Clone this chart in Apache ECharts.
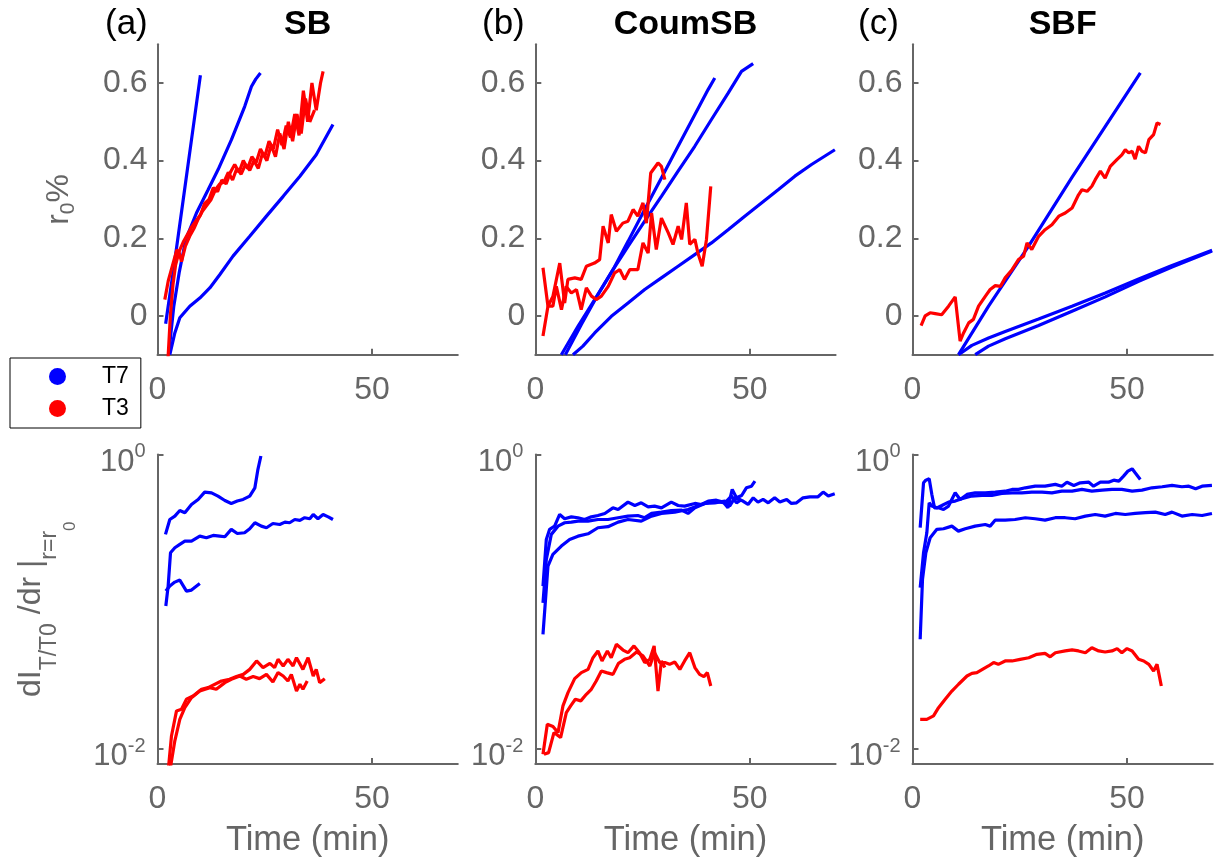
<!DOCTYPE html>
<html><head><meta charset="utf-8">
<script src="https://cdn.jsdelivr.net/npm/echarts@6.0.0/dist/echarts.min.js"></script>
<style>html,body{margin:0;padding:0;background:#fff}#chart{width:1217px;height:863px}</style>
</head><body><div id="chart"></div>
<script>
// ---------- tick values ----------
const timeTicks = [0, 50];
const r0Ticks = [0, 0.2, 0.4, 0.6];
const slopeTicks = [0.01, 1];

// ---------- panel (a) SB : r0 % vs time (min) ----------
const SB_r0_T7_1 = [[1.9,-0.02],[4.0,0.14],[6.0,0.30],[8.0,0.46],[10.0,0.62]];
const SB_r0_T7_2 = [[2.6,-0.1],[3.8,0.025],[5.05,0.111],[6.6,0.197],[9.08,0.265],[11.8,0.325],[14.13,0.377],[17.24,0.454],[20.34,0.54],[21.9,0.591],[22.9,0.61],[24.0,0.626]];
const SB_r0_T7_3 = [[2.87,-0.1],[4.04,-0.044],[5.2,-0.005],[7.53,0.025],[9.86,0.046],[12.19,0.072],[14.5,0.106],[17.6,0.154],[21.5,0.205],[25.4,0.257],[29.3,0.308],[33.2,0.36],[37.0,0.415],[40.9,0.493]];
const SB_r0_T3_1 = [[1.7,0.042],[2.5,0.09],[3.5,0.13],[4.5,0.17],[5.0,0.165],[5.6,0.14],[6.5,0.18],[7.5,0.205],[8.5,0.225],[9.5,0.25],[10.5,0.27],[11.5,0.285],[12.5,0.30],[13.5,0.325],[14.5,0.34],[15.5,0.345],[16.5,0.37],[17.5,0.35],[18.5,0.38],[19.5,0.365],[20.5,0.39],[21.5,0.375],[22.5,0.40],[23.5,0.38],[24.5,0.42],[25.5,0.40],[26.5,0.44],[27.5,0.41],[28.5,0.47],[29.5,0.43],[30.5,0.50],[31.5,0.45],[32.5,0.52],[33.5,0.47],[34.5,0.56],[35.5,0.50],[36.6,0.53]];
const SB_r0_T3_2 = [[2.4,-0.12],[3.0,0.0],[3.6,0.08],[4.2,0.13],[5.0,0.165],[6.0,0.19],[7.0,0.21],[8.0,0.23],[9.0,0.245],[10.0,0.26],[11.0,0.29],[12.0,0.30],[13.0,0.33],[14.0,0.32],[15.0,0.35],[16.0,0.34],[17.0,0.37],[18.0,0.39],[19.0,0.37],[20.0,0.40],[21.0,0.38],[22.0,0.41],[23.0,0.395],[24.0,0.43],[25.0,0.41],[26.0,0.45],[27.0,0.43],[28.0,0.48],[29.0,0.44],[30.0,0.49],[31.0,0.46],[32.0,0.52],[33.0,0.465],[34.0,0.58],[35.0,0.50],[36.0,0.60],[37.0,0.53],[38.0,0.60],[38.6,0.63]];

// ---------- panel (b) CoumSB ----------
const CoumSB_r0_T7_1 = [[6.07,-0.1],[9.95,-0.027],[13.84,0.042],[18.12,0.119],[21.62,0.192],[25.5,0.274],[29.39,0.355],[33.28,0.437],[37.17,0.518],[40.28,0.583],[41.84,0.613]];
const CoumSB_r0_T7_2 = [[7.0,-0.1],[10.73,-0.022],[14.62,0.055],[18.12,0.119],[21.62,0.179],[25.5,0.244],[29.39,0.308],[33.28,0.373],[37.17,0.437],[41.06,0.506],[44.95,0.574],[48.06,0.63],[50.78,0.65]];
const CoumSB_r0_T7_3 = [[8.79,-0.1],[11.1,-0.078],[13.84,-0.044],[17.73,-0.001],[21.62,0.033],[25.5,0.068],[29.39,0.098],[33.28,0.128],[37.17,0.158],[41.06,0.188],[44.95,0.222],[48.83,0.257],[52.72,0.291],[56.61,0.325],[60.5,0.36],[64.39,0.39],[69.83,0.428]];
const CoumSB_r0_T3_1 = [[1.79,0.124],[2.95,0.025],[4.1,0.05],[5.7,0.136],[6.84,0.033],[7.6,0.094],[9.2,0.098],[10.7,0.094],[11.9,0.128],[13.8,0.136],[15.0,0.145],[15.8,0.231],[17.0,0.188],[17.7,0.261],[18.9,0.218],[20.4,0.239],[21.6,0.244],[22.8,0.274],[23.9,0.257],[25.1,0.291],[25.9,0.239],[26.9,0.368],[28.6,0.394],[29.4,0.385],[30.2,0.351]];
const CoumSB_r0_T3_2 = [[1.79,-0.052],[2.95,0.025],[4.1,0.025],[4.9,0.076],[6.1,0.016],[7.2,0.076],[8.4,0.059],[9.6,0.068],[10.7,0.016],[11.9,0.072],[13.1,0.051],[14.2,0.042],[15.4,0.051],[17.0,0.076],[18.5,0.111],[19.7,0.119],[20.8,0.094],[22.0,0.119],[23.9,0.119],[25.1,0.188],[26.3,0.162],[27.1,0.265],[28.2,0.171],[29.4,0.252],[31.0,0.214],[32.1,0.184],[33.3,0.231],[34.1,0.197],[35.2,0.291],[36.0,0.184],[37.2,0.197],[37.9,0.162],[38.9,0.128],[39.9,0.197],[40.9,0.334]];

// ---------- panel (c) SBF ----------
const SBF_r0_T7_1 = [[10.73,-0.1],[17.73,0.025],[27.06,0.18],[37.17,0.357],[44.95,0.488],[53.11,0.626]];
const SBF_r0_T7_2 = [[10.73,-0.1],[13.84,-0.076],[17.73,-0.057],[21.62,-0.04],[29.39,-0.008],[37.17,0.025],[44.95,0.059],[52.72,0.095],[60.5,0.13],[69.83,0.169]];
const SBF_r0_T7_3 = [[14.62,-0.1],[17.73,-0.078],[21.62,-0.059],[29.39,-0.025],[37.17,0.012],[44.95,0.049],[52.72,0.089],[60.5,0.126],[69.83,0.167]];
const SBF_r0_T3_1 = [[2.0,-0.025],[2.95,0.0],[4.1,0.008],[5.3,0.006],[6.8,0.003],[8.4,0.025],[9.95,0.049],[11.1,-0.065],[11.9,-0.044],[13.1,-0.018],[14.2,-0.009],[15.4,0.025],[17.0,0.051],[18.1,0.068],[19.3,0.078],[20.5,0.076],[21.6,0.098],[23.2,0.119],[24.7,0.145],[25.9,0.154],[26.7,0.188],[27.8,0.171],[29.4,0.205],[30.9,0.222],[32.5,0.235],[34.1,0.257],[35.6,0.265],[37.2,0.278],[38.7,0.312],[39.5,0.325],[40.7,0.321],[41.8,0.334],[42.6,0.351],[43.8,0.373],[44.9,0.355],[46.1,0.385],[47.7,0.403],[48.8,0.415],[49.6,0.428],[50.4,0.42],[51.2,0.424],[51.9,0.404],[52.7,0.437],[53.5,0.424],[54.3,0.42],[55.1,0.454],[56.2,0.467],[57.0,0.497],[57.8,0.493]];

// ---------- bottom row: dI_T/T0/dr at r=r0, stored as log10 exponents ----------
const SB_slopeExp_T7_1 = [[1.86,-0.542],[2.87,-0.441],[4.04,-0.418],[5.2,-0.38],[6.37,-0.395],[7.92,-0.339],[9.47,-0.305],[11.0,-0.255],[12.6,-0.26],[14.1,-0.282],[15.7,-0.312],[17.2,-0.332],[18.6,-0.316],[19.96,-0.305],[21.5,-0.282],[22.7,-0.226],[23.4,-0.102],[24.1,-0.01]];
const SB_slopeExp_T7_2 = [[1.94,-1.028],[2.48,-0.893],[3.03,-0.667],[4.04,-0.633],[5.2,-0.61],[6.37,-0.588],[7.92,-0.588],[9.86,-0.554],[11.4,-0.565],[12.97,-0.549],[14.5,-0.554],[15.7,-0.558],[17.2,-0.508],[18.6,-0.536],[20.3,-0.531],[21.5,-0.504],[22.7,-0.463],[24.2,-0.486],[25.4,-0.497],[26.9,-0.468],[28.5,-0.475],[29.7,-0.459],[30.8,-0.463],[32.0,-0.441],[33.2,-0.447],[34.3,-0.429],[35.5,-0.436],[36.3,-0.407],[37.4,-0.436],[38.6,-0.407],[39.8,-0.423],[40.9,-0.441]];
const SB_slopeExp_T7_3 = [[1.94,-0.927],[2.87,-0.893],[4.04,-0.866],[5.2,-0.852],[6.75,-0.927],[7.92,-0.92],[9.86,-0.875]];
const SB_slopeExp_T3_1 = [[2.48,-2.15],[3.26,-1.91],[4.43,-1.74],[5.59,-1.729],[6.75,-1.661],[8.3,-1.638],[10.25,-1.593],[11.8,-1.582],[14.9,-1.537],[16.8,-1.525],[18.4,-1.507],[20.0,-1.492],[21.5,-1.458],[23.1,-1.401],[24.6,-1.446],[26.2,-1.417],[27.3,-1.446],[28.1,-1.39],[29.3,-1.435],[30.4,-1.39],[31.6,-1.435],[32.4,-1.379],[33.9,-1.458],[35.1,-1.379],[36.3,-1.503],[37.0,-1.458],[37.8,-1.548],[39.0,-1.521]];
const SB_slopeExp_T3_2 = [[2.87,-2.15],[4.04,-1.943],[5.2,-1.797],[6.37,-1.718],[7.92,-1.65],[9.86,-1.605],[12.2,-1.582],[13.7,-1.593],[15.7,-1.548],[17.2,-1.525],[19.2,-1.503],[20.7,-1.525],[22.3,-1.507],[23.8,-1.521],[25.4,-1.492],[26.9,-1.544],[28.1,-1.48],[29.3,-1.503],[30.4,-1.537],[31.2,-1.492],[32.4,-1.605],[33.2,-1.559],[33.9,-1.593],[34.9,-1.537]];

const CoumSB_slopeExp_T7_1 = [[1.79,-0.893],[2.57,-0.576],[3.34,-0.508],[4.5,-0.486],[5.68,-0.407],[6.84,-0.436],[8.4,-0.423],[9.95,-0.429],[11.5,-0.441],[13.06,-0.423],[14.6,-0.414],[16.2,-0.4],[18.1,-0.362],[19.3,-0.373],[21.6,-0.323],[23.2,-0.346],[24.7,-0.328],[26.3,-0.355],[27.8,-0.35],[29.4,-0.362],[31.7,-0.323],[33.3,-0.346],[34.8,-0.35],[37.2,-0.332],[38.7,-0.339],[40.3,-0.316],[42.2,-0.31],[43.8,-0.323],[44.9,-0.362],[45.9,-0.237],[46.9,-0.294],[48.1,-0.278],[49.2,-0.226],[50.4,-0.215],[51.2,-0.181]];
const CoumSB_slopeExp_T7_2 = [[1.79,-1.006],[2.57,-0.712],[3.73,-0.542],[5.29,-0.486],[6.84,-0.463],[8.4,-0.459],[9.95,-0.452],[12.3,-0.452],[14.6,-0.441],[16.95,-0.441],[19.3,-0.429],[21.6,-0.418],[23.9,-0.414],[25.5,-0.429],[27.1,-0.4],[29.4,-0.391],[31.7,-0.38],[34.1,-0.377],[35.6,-0.4],[37.2,-0.362],[39.5,-0.332],[41.8,-0.328],[44.2,-0.316],[45.3,-0.35],[46.5,-0.294],[48.4,-0.316],[49.6,-0.339],[50.8,-0.294],[51.9,-0.323],[53.1,-0.305],[54.3,-0.328],[55.8,-0.294],[57.0,-0.323],[58.6,-0.305],[59.7,-0.332],[60.9,-0.328],[62.4,-0.294],[64.0,-0.287],[65.9,-0.287],[67.1,-0.255],[68.3,-0.282],[69.8,-0.267]];
const CoumSB_slopeExp_T7_3 = [[1.79,-1.22],[2.95,-0.757],[4.1,-0.678],[6.07,-0.621],[8.0,-0.576],[9.95,-0.554],[12.3,-0.538],[14.6,-0.497],[16.95,-0.49],[19.3,-0.459],[21.6,-0.441],[24.7,-0.452],[27.1,-0.418],[29.4,-0.4],[32.5,-0.391],[35.6,-0.373],[38.7,-0.339],[41.8,-0.316],[44.2,-0.328],[45.7,-0.282],[46.9,-0.328],[48.1,-0.305]];
const CoumSB_slopeExp_T3_1 = [[1.79,-2.034],[2.8,-1.831],[4.12,-1.846],[5.29,-1.887],[6.45,-1.706],[7.62,-1.616],[9.18,-1.521],[10.73,-1.48],[12.3,-1.458],[13.45,-1.379],[14.6,-1.333],[15.55,-1.401],[16.8,-1.333],[17.7,-1.379],[18.9,-1.288],[20.45,-1.327],[21.6,-1.345],[23.0,-1.299],[24.3,-1.345],[25.5,-1.412],[26.7,-1.39],[27.7,-1.299],[28.6,-1.605],[29.4,-1.401],[30.2,-1.446]];
const CoumSB_slopeExp_T3_2 = [[2.02,-2.034],[3.1,-2.023],[4.35,-1.887],[5.9,-1.921],[7.23,-1.751],[8.24,-1.706],[9.33,-1.661],[10.6,-1.672],[11.9,-1.627],[13.06,-1.593],[14.2,-1.537],[15.4,-1.469],[16.6,-1.48],[18.1,-1.492],[19.4,-1.417],[20.8,-1.39],[22.0,-1.379],[23.6,-1.34],[25.1,-1.367],[26.7,-1.435],[27.8,-1.345],[29.0,-1.412],[30.2,-1.412],[31.3,-1.424],[32.5,-1.408],[33.7,-1.458],[34.8,-1.401],[36.0,-1.345],[37.2,-1.446],[38.3,-1.492],[39.3,-1.507],[40.1,-1.48],[40.9,-1.571]];

const SBF_slopeExp_T7_1 = [[1.79,-0.497],[2.57,-0.192],[3.11,-0.174],[3.89,-0.165],[4.51,-0.271],[5.13,-0.362],[6.07,-0.362],[7.23,-0.373],[8.4,-0.35],[9.95,-0.26],[11.1,-0.305],[12.7,-0.271],[14.6,-0.26],[16.95,-0.26],[19.3,-0.255],[21.6,-0.249],[23.2,-0.237],[24.7,-0.237],[26.3,-0.226],[28.6,-0.215],[30.9,-0.215],[33.3,-0.203],[34.8,-0.215],[36.0,-0.188],[37.6,-0.21],[39.1,-0.192],[41.1,-0.188],[42.2,-0.215],[43.8,-0.188],[45.7,-0.188],[46.9,-0.174],[48.1,-0.181],[49.2,-0.147],[50.2,-0.113],[51.2,-0.097],[51.9,-0.124],[53.1,-0.169]];
const SBF_slopeExp_T7_2 = [[1.79,-0.904],[2.57,-0.667],[3.34,-0.531],[3.89,-0.328],[4.5,-0.35],[5.68,-0.362],[6.84,-0.346],[8.4,-0.323],[9.95,-0.316],[11.5,-0.3],[13.8,-0.282],[16.2,-0.278],[18.5,-0.278],[20.8,-0.264],[23.2,-0.26],[25.5,-0.26],[27.8,-0.255],[30.2,-0.255],[32.5,-0.26],[34.8,-0.249],[37.2,-0.249],[39.5,-0.237],[41.8,-0.249],[44.2,-0.242],[46.5,-0.237],[48.8,-0.237],[51.2,-0.249],[53.5,-0.242],[55.8,-0.226],[58.2,-0.219],[60.5,-0.21],[62.8,-0.219],[64.4,-0.215],[66.0,-0.233],[67.5,-0.215],[69.8,-0.21]];
const SBF_slopeExp_T7_3 = [[1.79,-1.254],[2.33,-0.847],[3.11,-0.667],[4.12,-0.565],[5.68,-0.508],[7.23,-0.504],[9.18,-0.486],[10.7,-0.52],[12.3,-0.504],[14.6,-0.486],[16.95,-0.475],[18.1,-0.486],[19.3,-0.445],[21.6,-0.445],[23.9,-0.441],[26.3,-0.429],[28.6,-0.436],[30.9,-0.445],[33.3,-0.429],[35.6,-0.429],[37.9,-0.436],[40.3,-0.418],[42.6,-0.407],[44.9,-0.418],[47.3,-0.4],[49.6,-0.407],[51.9,-0.4],[54.3,-0.395],[56.6,-0.391],[58.9,-0.407],[60.5,-0.391],[62.8,-0.418],[65.2,-0.407],[67.5,-0.414],[69.8,-0.4]];
const SBF_slopeExp_T3_1 = [[1.79,-1.797],[3.34,-1.797],[4.9,-1.774],[6.07,-1.718],[7.62,-1.661],[9.18,-1.605],[10.73,-1.559],[12.7,-1.503],[13.84,-1.485],[15.0,-1.48],[16.6,-1.453],[17.7,-1.435],[18.9,-1.412],[20.0,-1.424],[21.6,-1.401],[23.2,-1.401],[25.1,-1.39],[27.1,-1.379],[29.0,-1.356],[30.9,-1.35],[32.1,-1.373],[33.3,-1.345],[35.6,-1.333],[37.2,-1.326],[38.7,-1.333],[40.3,-1.345],[41.8,-1.311],[43.4,-1.333],[44.9,-1.34],[46.5,-1.333],[47.7,-1.317],[48.8,-1.345],[50.0,-1.317],[51.2,-1.333],[52.7,-1.39],[53.9,-1.401],[55.1,-1.424],[56.2,-1.469],[57.0,-1.424],[58.0,-1.571]];

// ---------- assemble ----------
const panelTags = ['(a)', '(b)', '(c)'];
const panelNames = ['SB', 'CoumSB', 'SBF'];
const r0Curves = [
  {T7: [SB_r0_T7_1, SB_r0_T7_2, SB_r0_T7_3], T3: [SB_r0_T3_1, SB_r0_T3_2]},
  {T7: [CoumSB_r0_T7_1, CoumSB_r0_T7_2, CoumSB_r0_T7_3], T3: [CoumSB_r0_T3_1, CoumSB_r0_T3_2]},
  {T7: [SBF_r0_T7_1, SBF_r0_T7_2, SBF_r0_T7_3], T3: [SBF_r0_T3_1]}
];
const slopeCurves = [
  {T7: [SB_slopeExp_T7_1, SB_slopeExp_T7_2, SB_slopeExp_T7_3], T3: [SB_slopeExp_T3_1, SB_slopeExp_T3_2]},
  {T7: [CoumSB_slopeExp_T7_1, CoumSB_slopeExp_T7_2, CoumSB_slopeExp_T7_3], T3: [CoumSB_slopeExp_T3_1, CoumSB_slopeExp_T3_2]},
  {T7: [SBF_slopeExp_T7_1, SBF_slopeExp_T7_2, SBF_slopeExp_T7_3], T3: [SBF_slopeExp_T3_1]}
];

const FONT = '"Liberation Sans", Arial, Helvetica, sans-serif';
const GRAY = '#666666';
const COLORS = {T7: '#0000ff', T3: '#ff0000'};
const colLeft = [157.5, 535.3, 912.5];
const plotW = 300.3;
const topRow = {top: 44.2, height: 310.5};
const botRow = {top: 454.5, height: 309.5};

const grids = [], xAxes = [], yAxes = [], series = [], graphics = [];
const axisLineStyle = {color: GRAY, width: 2};

for (let row = 0; row < 2; row++) {
  for (let c = 0; c < 3; c++) {
    const idx = row * 3 + c;
    const r = row === 0 ? topRow : botRow;
    grids.push({left: colLeft[c], top: r.top, width: plotW, height: r.height, containLabel: false});
    xAxes.push({
      type: 'value', gridIndex: idx, min: 0, max: 70,
      axisLine: {show: true, onZero: false, lineStyle: axisLineStyle},
      axisTick: {show: true, inside: true, length: 6, customValues: timeTicks, lineStyle: axisLineStyle},
      axisLabel: {customValues: timeTicks, fontSize: 32, color: GRAY, fontFamily: FONT, margin: 19},
      splitLine: {show: false},
      name: row === 1 ? 'Time (min)' : '', nameLocation: 'middle', nameGap: 59,
      nameTextStyle: {fontSize: 34.5, color: GRAY, fontFamily: FONT}
    });
    if (row === 0) {
      yAxes.push({
        type: 'value', gridIndex: idx, min: -0.1, max: 0.7,
        axisLine: {show: true, onZero: false, lineStyle: axisLineStyle},
        axisTick: {show: true, inside: true, length: 6, customValues: r0Ticks, lineStyle: axisLineStyle},
        axisLabel: {customValues: r0Ticks, fontSize: 32, color: GRAY, fontFamily: FONT, margin: 10,
          padding: [4, 0, 0, 0],
          formatter: v => String(Math.round(v * 10) / 10)},
        splitLine: {show: false},
        name: c === 0 ? '{m|r}{s|0}{m|%}' : '', nameLocation: 'middle', nameRotate: 90, nameGap: 76,
        nameTextStyle: {rich: {
          m: {fontSize: 32, lineHeight: 44, color: GRAY, fontFamily: FONT},
          s: {fontSize: 21, lineHeight: 1, verticalAlign: 'top', padding: [20, 0, 0, 0], color: GRAY, fontFamily: FONT}
        }}
      });
    } else {
      yAxes.push({
        type: 'log', logBase: 10, gridIndex: idx, min: 0.00794, max: 1,
        axisLine: {show: true, onZero: false, lineStyle: axisLineStyle},
        axisTick: {show: true, inside: true, length: 6, customValues: slopeTicks, lineStyle: axisLineStyle},
        axisLabel: {customValues: slopeTicks, margin: 12,
          formatter: v => v > 0.5 ? '{b|10}{p|0}' : '{b|10}{p|-2}',
          rich: {
            b: {fontSize: 31, lineHeight: 30, verticalAlign: 'top', padding: [7, 0, 0, 0], color: GRAY, fontFamily: FONT},
            p: {fontSize: 20, lineHeight: 1, verticalAlign: 'top', padding: [2, 0, 0, 0], color: GRAY, fontFamily: FONT}
          }},
        splitLine: {show: false},
        name: c === 0 ? '{m|dI}{s|T/T0}{m| /dr }{m||}{s|r=r}{ss|0}' : '', nameLocation: 'middle', nameRotate: 90, nameGap: 106,
        nameTextStyle: {rich: {
          m: {fontSize: 32, lineHeight: 40, color: GRAY, fontFamily: FONT},
          s: {fontSize: 23, lineHeight: 1, verticalAlign: 'top', padding: [27, 0, 0, 0], color: GRAY, fontFamily: FONT},
          ss: {fontSize: 17, lineHeight: 1, verticalAlign: 'top', padding: [50, 0, 0, 0], color: GRAY, fontFamily: FONT}
        }}
      });
    }
    const set = row === 0 ? r0Curves[c] : slopeCurves[c];
    ['T7', 'T3'].forEach(name => {
      set[name].forEach(curve => {
        const data = row === 0 ? curve : curve.map(p => [p[0], Math.pow(10, p[1])]);
        series.push({
          type: 'line', name: name, data: data, xAxisIndex: idx, yAxisIndex: idx,
          symbol: 'none', showSymbol: false, clip: true, silent: true,
          lineStyle: {color: COLORS[name], width: 3.2}, itemStyle: {color: COLORS[name]},
          emphasis: {disabled: true}, z: name === 'T3' ? 3 : 2
        });
      });
    });
  }
}

// panel tags and titles
const tagX = [105, 482, 858];
for (let c = 0; c < 3; c++) {
  graphics.push({type: 'text', x: tagX[c], y: 6.5, style: {text: panelTags[c], fontSize: 35, fontFamily: FONT, fill: '#000', align: 'left', verticalAlign: 'top'}});
  graphics.push({type: 'text', x: colLeft[c] + plotW / 2, y: 7.2, style: {text: panelNames[c], fontSize: 34, fontWeight: 'bold', fontFamily: FONT, fill: '#000', align: 'center', verticalAlign: 'top'}});
}

const chart = echarts.init(document.getElementById('chart'), null, {renderer: 'canvas'});
chart.setOption({
  animation: false,
  backgroundColor: '#ffffff',
  textStyle: {fontFamily: FONT},
  grid: grids, xAxis: xAxes, yAxis: yAxes, series: series,
  legend: {
    orient: 'vertical', left: 10, top: 358, selectedMode: false,
    data: [{name: 'T7', icon: 'circle'}, {name: 'T3', icon: 'circle'}],
    itemWidth: 17, itemHeight: 17, itemGap: 9, padding: [7, 12, 8, 39],
    borderColor: '#000', borderWidth: 1, backgroundColor: '#fff',
    textStyle: {fontSize: 23, color: '#000', fontFamily: FONT, padding: [0, 0, 0, 31]}
  },
  graphic: graphics
});
</script></body></html>
